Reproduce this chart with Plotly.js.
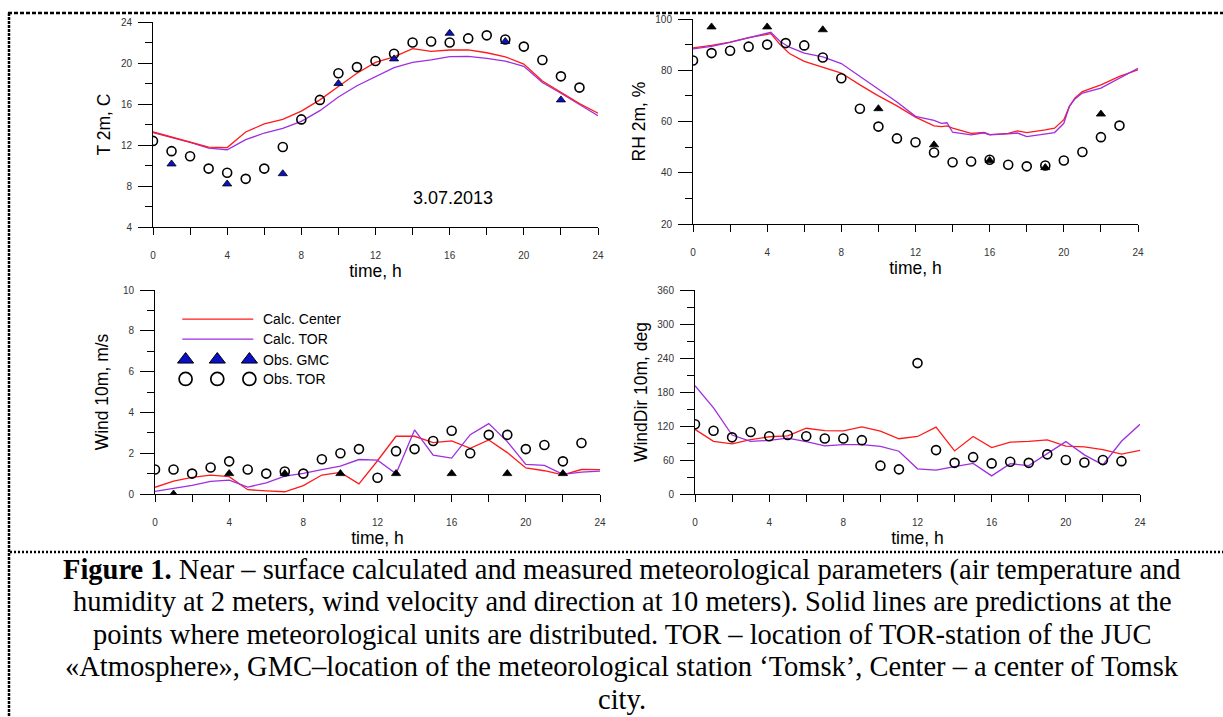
<!DOCTYPE html>
<html>
<head>
<meta charset="utf-8">
<script src="https://cdn.plot.ly/plotly-3.0.1.min.js"></script>
<style>
html,body{margin:0;padding:0;background:#fff;}
#chart{width:1223px;height:717px;}
</style>
</head>
<body>
<div id="chart"></div>
<script>
// ---------- data ----------
var hours = [0,1,2,3,4,5,6,7,8,9,10,11,12,13,14,15,16,17,18,19,20,21,22,23,24];
var obsHours = [0,1,2,3,4,5,6,7,8,9,10,11,12,13,14,15,16,17,18,19,20,21,22,23];
var gmcHours = [1,4,7,10,13,16,19,22];
var xTickVals = [0,4,8,12,16,20,24];

// Temperature 2m
var tempCalcCenter = [13.27,12.78,12.29,11.8,11.75,13.27,14.05,14.5,15.3,16.4,17.7,19.0,20.06,20.6,21.4,21.14,21.27,21.27,21.0,20.6,19.9,18.25,17.15,16.05,15.1];
var tempCalcTOR    = [13.22,12.74,12.25,11.7,11.54,12.52,13.17,13.62,14.3,15.35,16.68,17.78,18.65,19.55,20.06,20.3,20.62,20.65,20.45,20.18,19.67,18.1,17.05,15.95,14.85];
var tempObsTOR = [12.4,11.4,10.9,9.7,9.3,8.7,9.7,11.8,14.5,16.4,19.0,19.6,20.2,20.9,22.0,22.1,22.0,22.4,22.7,22.3,21.6,20.3,18.7,17.6];
var tempObsGMC = [10.15,8.2,9.2,18.0,20.4,22.9,22.1,16.4];

// Relative humidity 2m
var rhCalcHours  = [0,1,2,3,4,4.2,4.7,5.2,6,7,8,9,10,11,12,13,13.4,13.7,14,15,15.7,16,17,17.5,18,19,19.5,20,20.3,20.6,21,22,23,24];
var rhCalcCenter = [88.7,89.7,91.0,92.7,94.0,94.3,90.0,86.5,83.5,81.3,78.9,74.3,70.0,66.1,61.7,58.3,58.0,58.3,57.4,55.4,55.7,54.9,55.4,56.3,55.7,56.7,57.4,60.7,65.9,69.2,71.7,74.3,77.6,80.2];
var rhCalcTOR    = [88.3,89.3,90.9,92.7,94.5,94.8,91.2,89.0,86.7,85.2,82.6,77.6,72.6,67.6,62.0,60.4,59.3,59.5,55.8,54.8,55.6,54.8,55.2,55.5,54.1,55.2,55.7,59.3,65.9,68.8,71.1,73.0,76.9,80.8];
var rhObsTOR = [83.8,86.7,87.6,89.2,90.0,90.6,89.7,85.0,76.9,65.0,58.0,53.4,51.9,47.9,44.1,44.4,45.1,43.1,42.5,42.8,44.8,48.1,53.9,58.4];
var rhObsGMC = [96.9,96.9,95.8,65.0,50.9,44.8,42.0,62.9];

// Wind speed 10m
var windCalcCenter = [0.33,0.63,0.81,0.93,0.85,0.21,0.15,0.11,0.41,0.93,1.06,0.5,1.63,2.83,2.83,2.52,2.6,2.24,2.65,2.03,1.28,1.14,0.94,1.2,1.19];
var windCalcTOR    = [0.13,0.26,0.42,0.62,0.68,0.34,0.54,0.88,1.01,1.19,1.37,1.69,1.66,0.99,3.14,1.9,1.76,2.91,3.45,2.57,1.45,1.40,0.96,1.07,1.12];
var windObsTOR = [1.2,1.2,1.0,1.3,1.6,1.2,1.0,1.1,1.0,1.7,2.0,2.2,0.8,2.1,2.2,2.6,3.1,2.0,2.9,2.9,2.2,2.4,1.6,2.5];
var windObsGMC = [0.0,1.0,1.0,1.0,1.0,1.0,1.0,1.0];

// Wind direction 10m
var dirCalcCenter = [114,93,88.5,96,101,102.5,116,112,111.5,118.5,111,97.5,101.5,118,76,101.5,82,91.5,93,95.5,84.5,83,78.5,70.5,77];
var dirCalcTOR    = [191,152,104,93,94.5,98.5,92.5,85,87,87,84,75.5,44.5,42,48.5,54,32,53.5,50,72,92.5,69,51.5,93,123];
var dirObsTOR = [123,111.5,100,109.5,102,104,102,98,98,95,50,43.5,231,77.5,55,65,54,57,55,70,60,55.5,60,58];

// Legend (drawn inside the wind-speed panel, in its data units)
var legendLineX = [1.47,5.30];
var legendMarkX = [1.65,3.36,5.09];
var legendTextX = 5.72;
var legendRowY = [8.57,7.59,6.59,5.64];
var legendLabels = ['Calc. Center','Calc. TOR','Obs. GMC','Obs. TOR'];

var captionLines = [
  '<b>Figure 1.</b> Near \u2013 surface calculated and measured meteorological parameters (air temperature and',
  'humidity at 2 meters, wind velocity and direction at 10 meters). Solid lines are predictions at the',
  'points where meteorological units are distributed. TOR \u2013 location of TOR-station of the JUC',
  '\u00abAtmosphere\u00bb, GMC\u2013location of the meteorological station \u2018Tomsk\u2019, Center \u2013 a center of Tomsk',
  'city.'
];

// ---------- styles ----------
var RED = '#ff1a1a', PURPLE = '#9d2fe0', BLUE = '#0a10c8';
var W = 1223, H = 717;

function lineTrace(x, y, color, xa, ya){
  return {x:x, y:y, type:'scatter', mode:'lines', line:{color:color, width:1.3},
          xaxis:xa, yaxis:ya, showlegend:false, hoverinfo:'skip'};
}
function circleTrace(x, y, xa, ya){
  return {x:x, y:y, type:'scatter', mode:'markers',
          marker:{symbol:'circle-open', size:9, color:'#000', line:{width:1.6, color:'#000'}},
          xaxis:xa, yaxis:ya, showlegend:false, hoverinfo:'skip'};
}
function triTrace(x, y, fill, xa, ya){
  return {x:x, y:y, type:'scatter', mode:'markers',
          marker:{symbol:'triangle-up', size:8, color:fill, line:{width:0.8, color:'#000'}},
          xaxis:xa, yaxis:ya, showlegend:false, hoverinfo:'skip'};
}

var traces = [
  lineTrace(hours, tempCalcTOR, PURPLE, 'x', 'y'),
  lineTrace(hours, tempCalcCenter, RED, 'x', 'y'),
  circleTrace(obsHours, tempObsTOR, 'x', 'y'),
  triTrace(gmcHours, tempObsGMC, BLUE, 'x', 'y'),

  lineTrace(rhCalcHours, rhCalcCenter, RED, 'x2', 'y2'),
  lineTrace(rhCalcHours, rhCalcTOR, PURPLE, 'x2', 'y2'),
  circleTrace(obsHours, rhObsTOR, 'x2', 'y2'),
  triTrace(gmcHours, rhObsGMC, '#000', 'x2', 'y2'),

  lineTrace(hours, windCalcCenter, RED, 'x3', 'y3'),
  lineTrace(hours, windCalcTOR, PURPLE, 'x3', 'y3'),
  circleTrace(obsHours, windObsTOR, 'x3', 'y3'),
  triTrace(gmcHours, windObsGMC, '#000', 'x3', 'y3'),

  lineTrace(hours, dirCalcCenter, RED, 'x4', 'y4'),
  lineTrace(hours, dirCalcTOR, PURPLE, 'x4', 'y4'),
  circleTrace(obsHours, dirObsTOR, 'x4', 'y4'),

  // legend samples
  lineTrace(legendLineX, [legendRowY[0], legendRowY[0]], RED, 'x3', 'y3'),
  lineTrace(legendLineX, [legendRowY[1], legendRowY[1]], PURPLE, 'x3', 'y3'),
  {x:legendMarkX, y:legendMarkX.map(function(){return legendRowY[2];}), type:'scatter', mode:'markers',
   marker:{symbol:'triangle-up', size:14, color:BLUE, line:{width:1, color:'#000'}},
   xaxis:'x3', yaxis:'y3', showlegend:false, hoverinfo:'skip'},
  {x:legendMarkX, y:legendMarkX.map(function(){return legendRowY[3];}), type:'scatter', mode:'markers',
   marker:{symbol:'circle-open', size:13, color:'#000', line:{width:1.7, color:'#000'}},
   xaxis:'x3', yaxis:'y3', showlegend:false, hoverinfo:'skip'}
];

var tickFont = {family:'Arial, Liberation Sans, sans-serif', size:10, color:'#333'};
var titleFont = {family:'Arial, Liberation Sans, sans-serif', size:17.5, color:'#000'};

function xAxis(domain, anchor){
  return {domain:domain, anchor:anchor, range:[0,24], tickmode:'array', tickvals:xTickVals,
          ticks:'outside', ticklen:7, tickwidth:1, tickcolor:'#000',
          minor:{tickmode:'linear', tick0:0, dtick:2, ticks:'outside', ticklen:7, tickcolor:'#000', showgrid:false},
          showline:true, linecolor:'#000', linewidth:1, showgrid:false, zeroline:false,
          tickfont:tickFont, ticklabelstandoff:12, fixedrange:true,
          title:{text:'time, h', font:titleFont, standoff:3}};
}
function yAxis(domain, anchor, range, dtick, title, standoff){
  return {domain:domain, anchor:anchor, range:range, tickmode:'linear', tick0:range[0], dtick:dtick,
          ticks:'outside', ticklen:14, tickwidth:1, tickcolor:'#000',
          minor:{tickmode:'linear', tick0:range[0], dtick:dtick/2, ticks:'outside', ticklen:7, tickcolor:'#000', showgrid:false},
          showline:true, linecolor:'#000', linewidth:1, showgrid:false, zeroline:false,
          tickfont:tickFont, ticklabelstandoff:4, fixedrange:true,
          title:{text:title, font:titleFont, standoff:standoff}};
}

var annotations = [
  {xref:'x', yref:'y', x:16.2, y:6.8, text:'3.07.2013', showarrow:false,
   font:{family:'Arial, Liberation Sans, sans-serif', size:18, color:'#000'}}
];
legendLabels.forEach(function(t, i){
  annotations.push({xref:'x3', yref:'y3', x:legendTextX, y:legendRowY[i], text:t, showarrow:false,
    xanchor:'left', yanchor:'middle', font:{family:'Arial, Liberation Sans, sans-serif', size:14, color:'#000'}});
});
var capY = [570, 602, 634, 666, 699];
captionLines.forEach(function(t, i){
  annotations.push({xref:'paper', yref:'paper', x:622/W, y:1 - capY[i]/H, text:t, showarrow:false,
    xanchor:'center', yanchor:'middle',
    font:{family:'Liberation Serif, Times New Roman, serif', size:28.5, color:'#000'}});
});

var shapes = [
  {type:'line', xref:'paper', yref:'paper', x0:8/W, x1:1, y0:1-13/H, y1:1-13/H,
   line:{color:'#000', width:2.5, dash:'4px,2px'}},
  {type:'line', xref:'paper', yref:'paper', x0:9/W, x1:9/W, y0:1-13/H, y1:0,
   line:{color:'#000', width:2.5, dash:'3px,1px'}},
  {type:'line', xref:'paper', yref:'paper', x0:10/W, x1:1, y0:1-552/H, y1:1-552/H,
   line:{color:'#000', width:2.5, dash:'2px,2px'}}
];

var layout = {
  width:W, height:H, margin:{l:0, r:0, t:0, b:0},
  paper_bgcolor:'#fff', plot_bgcolor:'rgba(0,0,0,0)', showlegend:false,
  xaxis:  xAxis([153/W, 598/W], 'y'),
  yaxis:  yAxis([1-227/H, 1-22/H], 'x', [4,24], 4, 'T 2m, C', 5),
  xaxis2: xAxis([693/W, 1138/W], 'y2'),
  yaxis2: yAxis([1-224/H, 1-19/H], 'x2', [20,100], 20, 'RH 2m, %', 5),
  xaxis3: xAxis([155/W, 600/W], 'y3'),
  yaxis3: yAxis([1-494/H, 1-290/H], 'x3', [0,10], 2, 'Wind 10m, m/s', 9),
  xaxis4: xAxis([695/W, 1140/W], 'y4'),
  yaxis4: yAxis([1-494/H, 1-290/H], 'x4', [0,360], 60, 'WindDir 10m, deg', 5),
  annotations:annotations,
  shapes:shapes
};

Plotly.newPlot('chart', traces, layout, {staticPlot:true, displayModeBar:false});
</script>
</body>
</html>
